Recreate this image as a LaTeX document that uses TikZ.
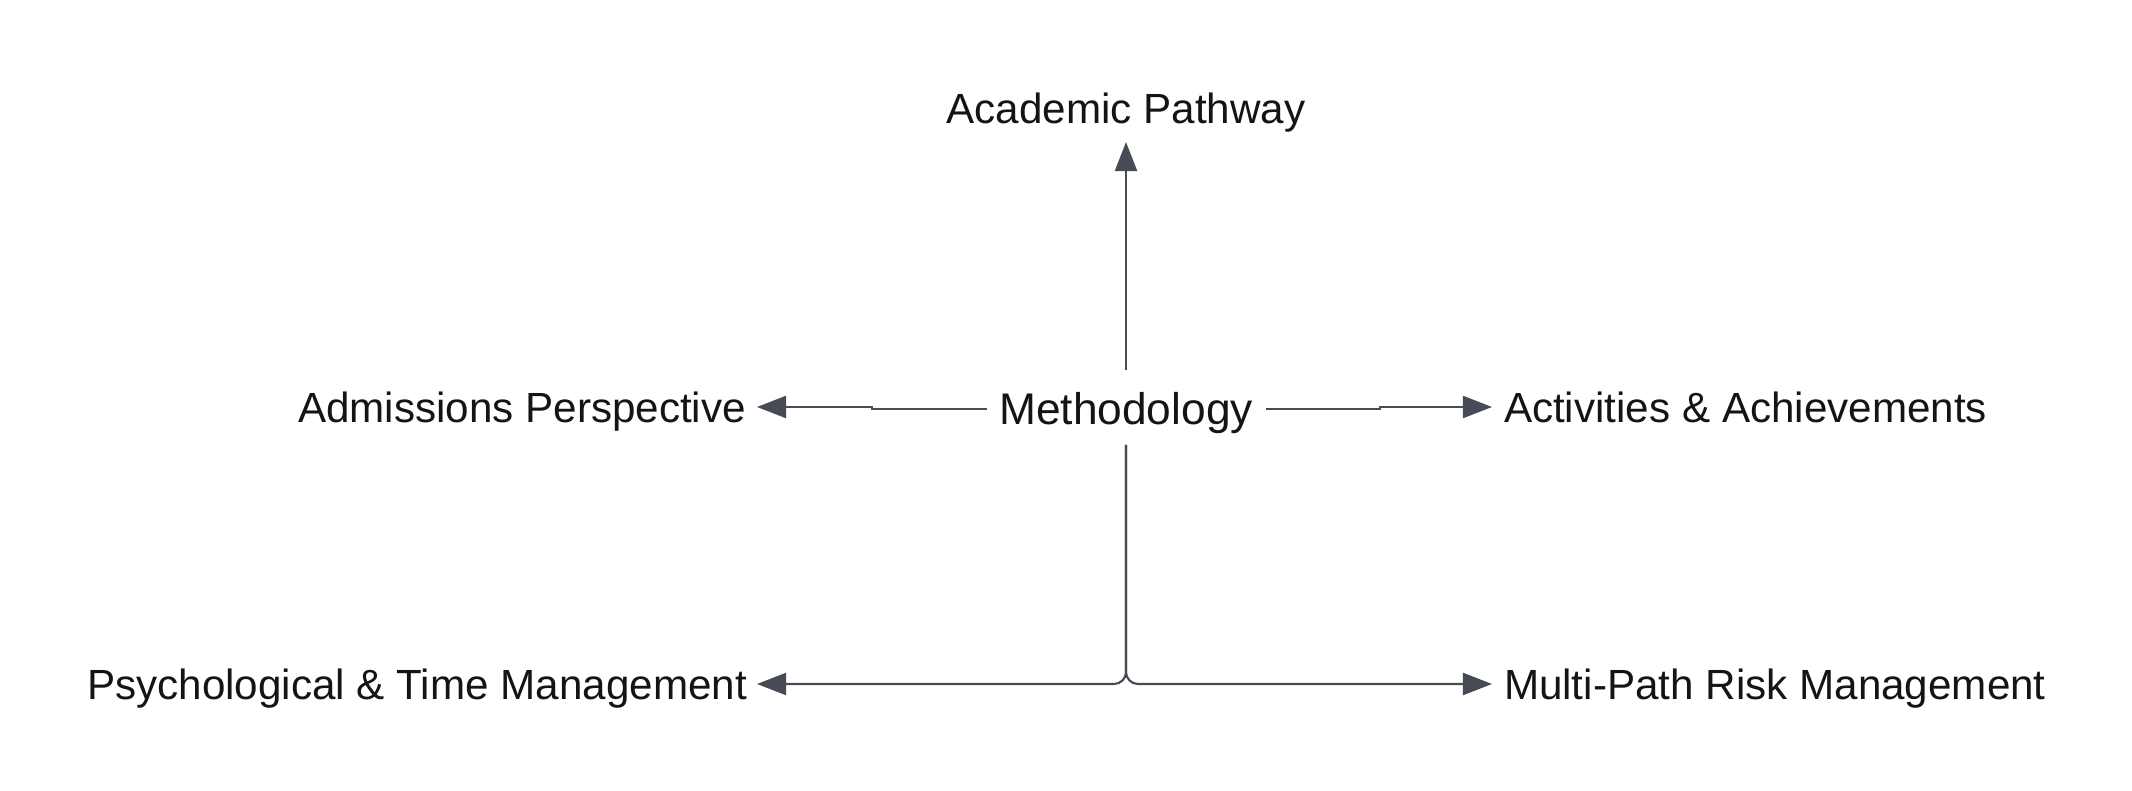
\documentclass[tikz,border=0pt]{standalone}
\usepackage{fontspec}
\setmainfont{Liberation Sans}
\usetikzlibrary{arrows.meta}
\definecolor{conn}{HTML}{474B55}
\begin{document}
\begin{tikzpicture}[x=0.01cm,y=-0.01cm,
  lbl/.style={inner sep=0pt,outer sep=0pt,text height=0.30cm,text depth=0pt,
    font=\fontsize{12}{14}\selectfont,text=black!92},
  arr/.style={draw=conn,line width=0.6pt,-{Triangle[length=0.29cm,width=0.22cm]}}]
\useasboundingbox (0,0) rectangle (2132,791);
\node[lbl] (ap) at (1126,108) {Academic Pathway};
\node[lbl,text height=0.318cm,font=\fontsize{12.6}{15}\selectfont] (m) at (1126,409) {Methodology};
\node[lbl,anchor=east] (ad) at (746,407) {Admissions Perspective};
\node[lbl,anchor=west] (ac) at (1504,407) {Activities \& Achievements};
\node[lbl,anchor=east] (ps) at (747,684) {Psychological \& Time Management};
\node[lbl,anchor=west] (mp) at (1504,684) {Multi-Path Risk Management};
\draw[arr] ([yshift=0.23cm]m.north) -- ([yshift=-0.19cm]ap.south);
\draw[arr] ([xshift=-0.12cm]m.west) -- (872,409) -- (872,407) -- ([xshift=0.11cm]ad.east);
\draw[arr] ([xshift=0.13cm]m.east) -- (1380,409) -- (1380,407) -- ([xshift=-0.12cm]ac.west);
\draw[arr,rounded corners=0.12cm] ([yshift=-0.2cm]m.south) -- (1126,684) -- ([xshift=0.1cm]ps.east);
\draw[arr,rounded corners=0.12cm] ([yshift=-0.2cm]m.south) -- (1126,684) -- ([xshift=-0.12cm]mp.west);
\end{tikzpicture}
\end{document}
